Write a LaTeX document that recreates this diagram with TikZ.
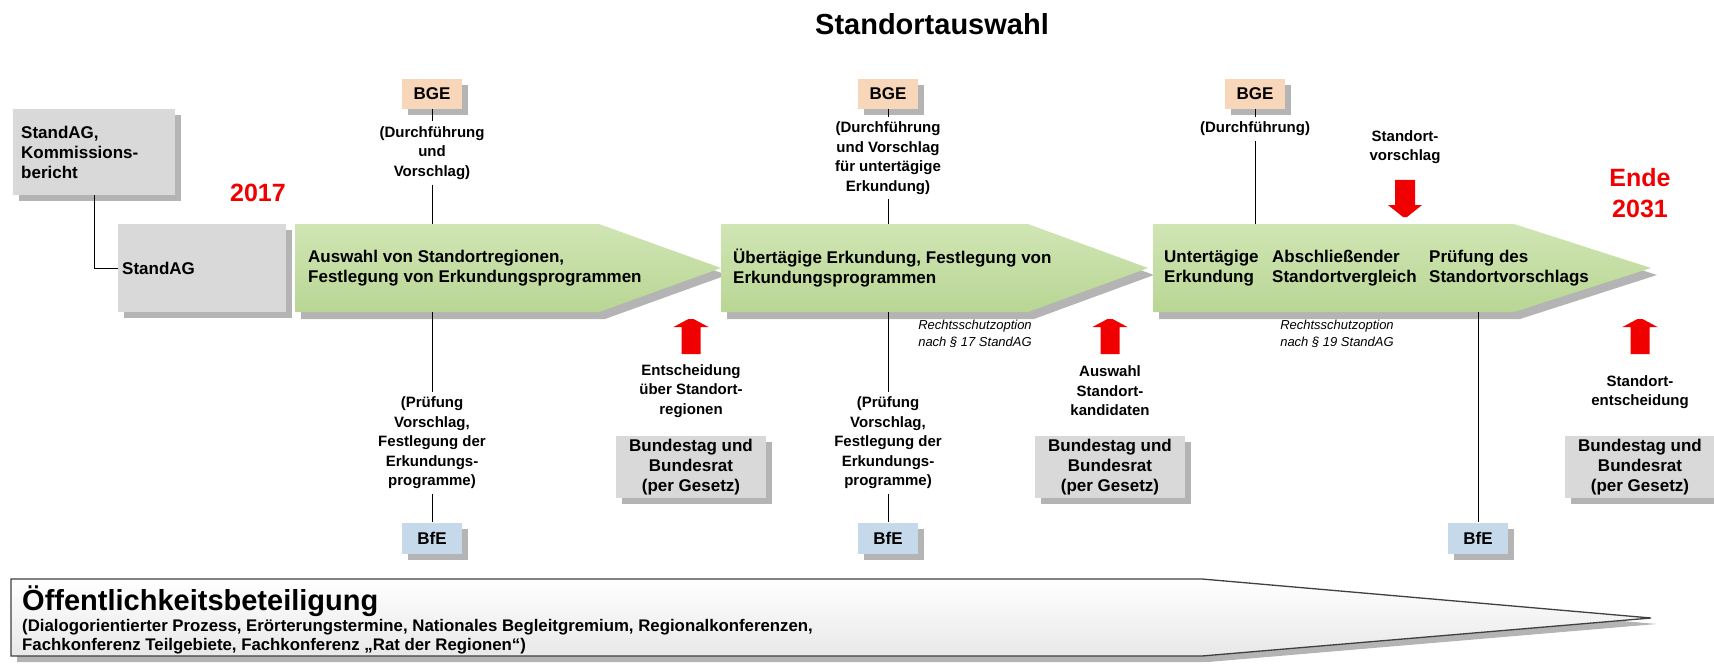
\documentclass[tikz,border=0pt]{standalone}
\usepackage{fontspec}
\setmainfont{Liberation Sans}
\usetikzlibrary{shadows}
\definecolor{gruenhell}{HTML}{D0E5B4}
\definecolor{gruendunkel}{HTML}{B9D694}
\definecolor{bgefarbe}{HTML}{F8D6BA}
\definecolor{bfefarbe}{HTML}{C6D9EB}
\definecolor{grau}{HTML}{D9D9D9}
\definecolor{schatten}{HTML}{B4B4B4}
\definecolor{rot}{HTML}{F00000}
\newcommand\titelschrift{\fontsize{29}{33}\selectfont\bfseries}
\newcommand\jahrschrift{\fontsize{25}{31}\selectfont\bfseries}
\newcommand\gross{\fontsize{17}{20}\selectfont\bfseries}
\newcommand\klein{\fontsize{15}{19.5}\selectfont\bfseries}
\newcommand\winzig{\fontsize{13}{17.5}\selectfont\itshape}
\newcommand\beteiligung{\fontsize{16.8}{19}\selectfont\bfseries}
\begin{document}
\begin{tikzpicture}[x=1pt,y=-1pt,
		kasten/.style={fill=grau,font=\gross,align=center,
			drop shadow={fill=schatten,opacity=1,shadow xshift=6pt,shadow yshift=-6pt}},
		bgek/.style={kasten,fill=bgefarbe,minimum width=60pt,minimum height=30pt,inner sep=0pt},
		bfek/.style={kasten,fill=bfefarbe,minimum width=60pt,minimum height=31pt,inner sep=0pt},
		bundk/.style={kasten,minimum width=150pt,minimum height=62pt,inner sep=0pt},
		erkl/.style={font=\klein,align=center,inner sep=5pt},
		rechts/.style={font=\winzig,align=left,inner sep=0pt},
		jahr/.style={font=\jahrschrift,text=rot,align=center,inner sep=0pt},
		gtext/.style={font=\gross,align=left,anchor=west,inner sep=0pt}]
	\useasboundingbox (0,0) rectangle (1714,666);
	\node[font=\titelschrift] (titel) at (932,24) {Standortauswahl};

	% Gesetz und Kommission
	\node[kasten,anchor=north west,minimum width=162pt,minimum height=86pt,
		text width=146pt,align=left,inner sep=8pt] (komm) at (13,109)
		{StandAG,\\Kommissions-\\bericht};
	\node[kasten,anchor=north west,minimum width=168pt,minimum height=88pt,
		text width=160pt,align=left,inner sep=4pt] (standag) at (118,224) {StandAG};
	\draw (komm.south) -- (komm.south |- standag.west) -- (standag.west);
	\node[jahr] (jahr1) at (258,193) {2017};

	% Phasen
	\foreach \l/\m/\r/\n in {295/599/721/1, 721/1028/1148/2, 1153/1514/1651/3} {
		\fill[schatten] (\l+6,231) -- (\m+6,231) -- (\r+6,275) -- (\m+6,319) -- (\l+6,319) -- cycle;
		\shade[top color=gruenhell,bottom color=gruendunkel]
			(\l,224) -- (\m,224) -- (\r,268) -- (\m,312) -- (\l,312) -- cycle;
		\coordinate (g\n o) at (\l,224);
		\coordinate (g\n u) at (\l,312);
	}
	\node[gtext] (phase1) at (308,268) {Auswahl von Standortregionen,\\Festlegung von Erkundungsprogrammen};
	\node[gtext] (phase2) at (733,268) {Übertägige Erkundung, Festlegung von\\Erkundungsprogrammen};
	\node[gtext] (phase3a) at (1164,268) {Untertägige\\Erkundung};
	\node[gtext] (phase3b) at (1272,268) {Abschließender\\Standortvergleich};
	\node[gtext] (phase3c) at (1429,268) {Prüfung des\\Standortvorschlags};

	% BGE
	\node[bgek] (bge1) at (432,94) {BGE};
	\node[bgek] (bge2) at (888,94) {BGE};
	\node[bgek] (bge3) at (1255,94) {BGE};
	\node[erkl] (bgetext1) at (432,153) {(Durchführung\\und\\Vorschlag)};
	\node[erkl] (bgetext2) at (888,158) {(Durchführung\\und Vorschlag\\für untertägige\\Erkundung)};
	\node[erkl] (bgetext3) at (1255,129) {(Durchführung)};
	\draw (bge1) -- (bgetext1) -- (bgetext1 |- g1o);
	\draw (bge2) -- (bgetext2) -- (bgetext2 |- g2o);
	\draw (bge3) -- (bgetext3) -- (bgetext3 |- g3o);

	% BfE
	\node[bfek] (bfe1) at (432,538) {BfE};
	\node[bfek] (bfe2) at (888,538) {BfE};
	\node[bfek] (bfe3) at (1478,538) {BfE};
	\node[erkl] (bfetext1) at (432,443) {(Prüfung\\Vorschlag,\\Festlegung der\\Erkundungs-\\programme)};
	\node[erkl] (bfetext2) at (888,443) {(Prüfung\\Vorschlag,\\Festlegung der\\Erkundungs-\\programme)};
	\draw (bfe1 |- g1u) -- (bfetext1) -- (bfe1);
	\draw (bfe2 |- g2u) -- (bfetext2) -- (bfe2);
	\draw (bfe3 |- g3u) -- (bfe3);

	% Entscheidungen
	\foreach \x in {691,1110,1640}
		\fill[rot] (\x-9.5,354) -- (\x-9.5,327) -- (\x-17.5,327) -- (\x-2.5,319)
			-- (\x+2.5,319) -- (\x+17.5,327) -- (\x+9.5,327) -- (\x+9.5,354) -- cycle;
	\fill[rot] (1395,180) -- (1395,205) -- (1388,205) -- (1403,217) -- (1407,217)
		-- (1422,205) -- (1415,205) -- (1415,180) -- cycle;
	\node[erkl] (entsch1) at (691,391) {Entscheidung\\über Standort-\\regionen};
	\node[erkl] (entsch2) at (1110,391) {Auswahl\\Standort-\\kandidaten};
	\node[erkl] (entsch3) at (1640,392) {Standort-\\entscheidung};
	\node[erkl] (vorschlag) at (1405,147) {Standort-\\vorschlag};
	\node[bundk] (bund1) at (691,467) {Bundestag und\\Bundesrat\\(per Gesetz)};
	\node[bundk] (bund2) at (1110,467) {Bundestag und\\Bundesrat\\(per Gesetz)};
	\node[bundk] (bund3) at (1640,467) {Bundestag und\\Bundesrat\\(per Gesetz)};
	\node[jahr] (jahr2) at (1640,193) {Ende\\2031};
	\node[rechts] (recht1) at (975,334) {Rechtsschutzoption\\nach § 17 StandAG};
	\node[rechts] (recht2) at (1337,334) {Rechtsschutzoption\\nach § 19 StandAG};

	% Oeffentlichkeitsbeteiligung
	\fill[schatten] (17,585) -- (1208,585) -- (1657,624) -- (1208,662) -- (17,662) -- cycle;
	\shade[top color=white,bottom color=black!9,draw=black!75,line width=1.3pt]
		(11,579) -- (1202,579) -- (1651,618) -- (1202,656) -- (11,656) -- cycle;
	\node[anchor=base west,font=\titelschrift,inner sep=0pt] (oeff) at (22,610)
		{Öffentlichkeitsbeteiligung};
	\node[anchor=north west,font=\beteiligung,align=left,inner sep=0pt] (oefftext) at (22,619)
		{(Dialogorientierter Prozess, Erörterungstermine, Nationales Begleitgremium, Regionalkonferenzen,\\
		Fachkonferenz Teilgebiete, Fachkonferenz „Rat der Regionen“)};
\end{tikzpicture}
\end{document}
